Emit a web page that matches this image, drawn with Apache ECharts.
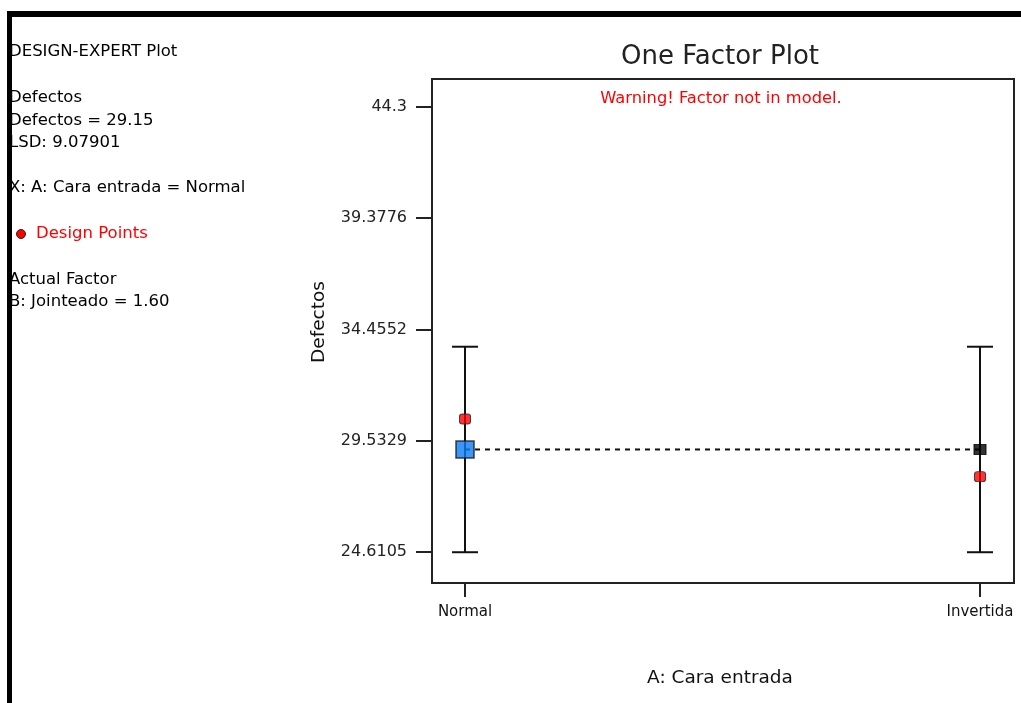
<!DOCTYPE html>
<html>
<head>
<meta charset="utf-8">
<title>One Factor Plot</title>
<script src="https://cdn.jsdelivr.net/npm/echarts@6/dist/echarts.min.js"></script>
<style>
  html, body { margin: 0; padding: 0; background: #ffffff; }
  #chart { width: 1021px; height: 703px; }
</style>
</head>
<body>
<div id="chart"></div>
<script>
// Factor levels and their positions on the x scale
const categories = ['Normal', 'Invertida'];
const levelPos = [0, 1];

// Predicted response at each level and the LSD interval bounds
const predicted = [29.15, 29.15];
const lsdLow = [24.61, 24.61];
const lsdHigh = [33.69, 33.69];

// Observed design points
const designPoints = [30.5, 27.95];

// Y tick values and their printed labels
const yTickValues = [24.6105, 29.5329, 34.4552, 39.3776, 44.3];
const yTickLabels = ['24.6105', '29.5329', '34.4552', '39.3776', '44.3'];

// Side panel text lines
const panelLines = [
  { text: 'DESIGN-EXPERT Plot', y: 52 },
  { text: 'Defectos', y: 98 },
  { text: 'Defectos = 29.15', y: 121 },
  { text: 'LSD: 9.07901', y: 143 },
  { text: 'X: A: Cara entrada = Normal', y: 188 },
  { text: 'Actual Factor', y: 280 },
  { text: 'B: Jointeado = 1.60', y: 302 }
];

const FONT = '"DejaVu Sans", "Liberation Sans", Arial, sans-serif';
const chart = echarts.init(document.getElementById('chart'), null, { renderer: 'canvas' });

const errorData = levelPos.map((x, i) => [x, lsdLow[i], lsdHigh[i]]);
const meanData = levelPos.map((x, i) => ({
  value: [x, predicted[i]],
  symbol: 'rect',
  symbolSize: i === 0 ? [18, 17] : [12, 10],
  itemStyle: i === 0
    ? { color: '#0a7cf5', borderColor: '#1a1a1a', borderWidth: 1.5 }
    : { color: '#000000', borderColor: '#000000', borderWidth: 1 }
}));
const pointData = levelPos.map((x, i) => [x, designPoints[i]]);

const graphics = [];
panelLines.forEach(l => {
  graphics.push({
    type: 'text', x: 9, y: l.y, z: 10,
    style: { text: l.text, fill: '#000', fontSize: 16.5, fontFamily: FONT,
             textAlign: 'left', textVerticalAlign: 'middle' }
  });
});
// Design points legend entry
graphics.push({
  type: 'circle', z: 10,
  shape: { cx: 21, cy: 234, r: 4.5 },
  style: { fill: '#ff0000', stroke: '#222', lineWidth: 1 }
});
graphics.push({
  type: 'text', x: 36, y: 234, z: 10,
  style: { text: 'Design Points', fill: '#ff0000', fontSize: 16.5, fontFamily: FONT,
           textAlign: 'left', textVerticalAlign: 'middle' }
});
// Title and warning
graphics.push({
  type: 'text', x: 720, y: 57, z: 10,
  style: { text: 'One Factor Plot', fill: '#222', fontSize: 26, fontFamily: FONT,
           textAlign: 'center', textVerticalAlign: 'middle' }
});
graphics.push({
  type: 'text', x: 721, y: 99, z: 10,
  style: { text: 'Warning! Factor not in model.', fill: '#ff0000', fontSize: 16.3, fontFamily: FONT,
           textAlign: 'center', textVerticalAlign: 'middle' }
});
// Axis names
graphics.push({
  type: 'text', x: 720, y: 678, z: 10,
  style: { text: 'A: Cara entrada', fill: '#111', fontSize: 18.5, fontFamily: FONT,
           textAlign: 'center', textVerticalAlign: 'middle' }
});
graphics.push({
  type: 'text', x: 319, y: 322, rotation: Math.PI / 2, z: 10,
  style: { text: 'Defectos', fill: '#111', fontSize: 18.5, fontFamily: FONT,
           textAlign: 'center', textVerticalAlign: 'middle' }
});
// Heavy frame along the top and left edges
graphics.push({
  type: 'rect', z: 100,
  shape: { x: 7, y: 11, width: 1014, height: 6 },
  style: { fill: '#000' }
});
graphics.push({
  type: 'rect', z: 100,
  shape: { x: 7, y: 11, width: 5, height: 692 },
  style: { fill: '#000' }
});

const option = {
  backgroundColor: '#ffffff',
  animation: false,
  graphic: graphics,
  grid: {
    left: 432, top: 79, width: 582, height: 504,
    show: true, borderColor: '#222', borderWidth: 2, backgroundColor: 'transparent'
  },
  xAxis: {
    type: 'value',
    min: -0.0641,
    max: 1.066,
    axisLine: { show: true, onZero: false, lineStyle: { color: '#222', width: 2 } },
    axisTick: { show: true, customValues: levelPos, length: 14, inside: false,
                lineStyle: { color: '#222', width: 2 } },
    axisLabel: {
      customValues: levelPos,
      formatter: v => categories[Math.round(v)],
      margin: 22, fontSize: 15, fontFamily: FONT, color: '#111'
    },
    splitLine: { show: false }
  },
  yAxis: {
    type: 'value',
    min: 23.25,
    max: 45.52,
    axisLine: { show: true, onZero: false, lineStyle: { color: '#222', width: 2 } },
    axisTick: { show: true, customValues: yTickValues, length: 16, inside: false,
                lineStyle: { color: '#222', width: 2 } },
    axisLabel: {
      customValues: yTickValues,
      formatter: v => {
        const i = yTickValues.findIndex(t => Math.abs(t - v) < 1e-6);
        return i >= 0 ? yTickLabels[i] : '';
      },
      margin: 25, fontSize: 16, fontFamily: FONT, color: '#222'
    },
    splitLine: { show: false }
  },
  series: [
    {
      // LSD interval bars with end caps
      type: 'custom',
      data: errorData,
      z: 2,
      renderItem: (params, api) => {
        const x = api.value(0);
        const lo = api.coord([x, api.value(1)]);
        const hi = api.coord([x, api.value(2)]);
        const hw = 13;
        const st = { stroke: '#111', lineWidth: 2 };
        return {
          type: 'group',
          children: [
            { type: 'line', shape: { x1: hi[0], y1: hi[1], x2: lo[0], y2: lo[1] }, style: st },
            { type: 'line', shape: { x1: hi[0] - hw, y1: hi[1], x2: hi[0] + hw, y2: hi[1] }, style: st },
            { type: 'line', shape: { x1: lo[0] - hw, y1: lo[1], x2: lo[0] + hw, y2: lo[1] }, style: st }
          ]
        };
      }
    },
    {
      // Dashed connection between predicted means
      type: 'line',
      data: levelPos.map((x, i) => [x, predicted[i]]),
      symbol: 'none',
      z: 3,
      lineStyle: { color: '#111', width: 2, type: [5, 5] }
    },
    {
      type: 'scatter',
      data: meanData,
      z: 5
    },
    {
      type: 'scatter',
      data: pointData,
      symbol: 'roundRect',
      symbolSize: [11, 10],
      z: 6,
      itemStyle: { color: '#ff0000', borderColor: '#222', borderWidth: 1 }
    }
  ]
};

chart.setOption(option);
</script>
</body>
</html>
